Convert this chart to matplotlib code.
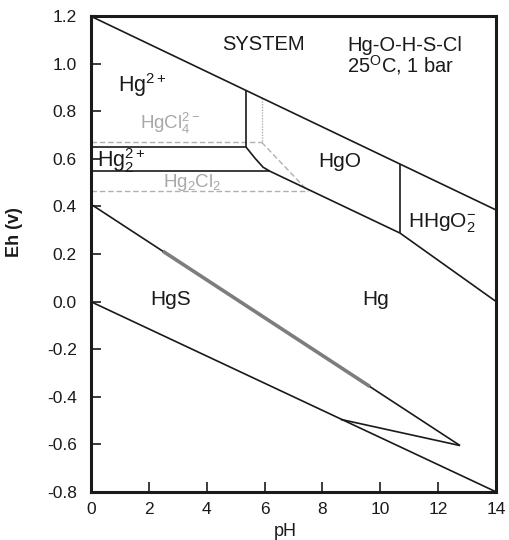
import matplotlib
matplotlib.use('Agg')
import matplotlib.pyplot as plt

plt.rcParams['font.family'] = ['Liberation Sans', 'DejaVu Sans']
plt.rcParams['mathtext.fontset'] = 'custom'
plt.rcParams['mathtext.rm'] = 'Liberation Sans'
plt.rcParams['mathtext.it'] = 'Liberation Sans'
plt.rcParams['mathtext.bf'] = 'Liberation Sans:bold'

# ---- data (pH, Eh) ----
ph_ticks = [0, 2, 4, 6, 8, 10, 12, 14]
eh_ticks = [-0.8, -0.6, -0.4, -0.2, 0.0, 0.2, 0.4, 0.6, 0.8, 1.0, 1.2]
eh_ticklabels = ['-0.8', '-0.6', '-0.4', '-0.2', '0.0', '0.2', '0.4', '0.6', '0.8', '1.0', '1.2']

water_upper_ph = [0, 14]
water_upper_eh = [1.2, 0.385]
water_lower_ph = [0, 14]
water_lower_eh = [0.0, -0.8]

hg2_hgo_ph = [5.36, 5.36]
hg2_hgo_eh = [0.888, 0.65]
hg2_hg22_ph = [0, 5.36]
hg2_hg22_eh = [0.652, 0.652]
hg22_hg_ph = [0, 6.19]
hg22_hg_eh = [0.548, 0.548]
hgo_hg_ph = [5.36, 5.67, 5.95, 6.19, 10.68]
hgo_hg_eh = [0.65, 0.603, 0.565, 0.548, 0.288]
hgo_hhgo2_ph = [10.68, 10.68]
hgo_hhgo2_eh = [0.578, 0.288]
hhgo2_hg_ph = [10.68, 14]
hhgo2_hg_eh = [0.288, 0.0]
hgs_hg_ph = [0, 12.75]
hgs_hg_eh = [0.41, -0.605]
sliver_ph = [8.63, 12.75]
sliver_eh = [-0.495, -0.605]
overlay_ph = [2.49, 9.64]
overlay_eh = [0.212, -0.357]

cl_upper_ph = [0, 5.9]
cl_upper_eh = [0.670, 0.670]
cl_vert_ph = [5.9, 5.9]
cl_vert_eh = [0.857, 0.670]
cl_diag_ph = [5.9, 7.5]
cl_diag_eh = [0.670, 0.465]
cl_lower_ph = [0, 7.5]
cl_lower_eh = [0.465, 0.465]

fig = plt.figure(figsize=(5.1, 5.4), dpi=100)
ax = fig.add_axes([0.178, 0.089, 0.795, 0.881])
ax.set_xlim(0, 14)
ax.set_ylim(-0.8, 1.2)

k = '#1a1a1a'
lw = 1.2
for xs, ys in [(water_upper_ph, water_upper_eh), (water_lower_ph, water_lower_eh),
               (hg2_hgo_ph, hg2_hgo_eh), (hg2_hg22_ph, hg2_hg22_eh),
               (hg22_hg_ph, hg22_hg_eh), (hgo_hg_ph, hgo_hg_eh),
               (hgo_hhgo2_ph, hgo_hhgo2_eh), (hhgo2_hg_ph, hhgo2_hg_eh),
               (hgs_hg_ph, hgs_hg_eh), (sliver_ph, sliver_eh)]:
    ax.plot(xs, ys, color=k, lw=lw, solid_capstyle='butt', zorder=3)

ax.plot(overlay_ph, overlay_eh, color='#7d7d7d', lw=2.6, solid_capstyle='butt', zorder=4)

g = '#b0b0b0'
ax.plot(cl_upper_ph, cl_upper_eh, color=g, lw=1.0, ls=(0, (4, 2)), zorder=2)
ax.plot(cl_lower_ph, cl_lower_eh, color=g, lw=1.0, ls=(0, (4, 2)), zorder=2)
ax.plot(cl_vert_ph, cl_vert_eh, color=g, lw=1.0, ls=(0, (1, 1)), zorder=2)
ax.plot(cl_diag_ph, cl_diag_eh, color=g, lw=1.0, ls=(0, (4, 2)), zorder=2)

fs = 15
ax.text(5.96, 1.08, 'SYSTEM', fontsize=14.5, ha='center', va='center', color=k)
ax.text(8.85, 1.078, 'Hg-O-H-S-Cl', fontsize=14.5, ha='left', va='center', color=k)
ax.text(8.85, 0.994, '25$^{\\mathrm{O}}$C, 1 bar', fontsize=14.5, ha='left', va='center', color=k)
ax.text(0.93, 0.91, 'Hg$^{2+}$', fontsize=15.5, ha='left', va='center', color=k)
ax.text(0.2, 0.595, 'Hg$_2^{2+}$', fontsize=15.5, ha='left', va='center', color=k)
ax.text(1.7, 0.75, 'HgCl$_4^{2-}$', fontsize=13.5, ha='left', va='center', color='#a8a8a8')
ax.text(2.5, 0.50, 'Hg$_2$Cl$_2$', fontsize=13.5, ha='left', va='center', color='#a8a8a8')
ax.text(8.6, 0.59, 'HgO', fontsize=fs, ha='center', va='center', color=k)
ax.text(10.96, 0.33, 'HHgO$_2^{-}$', fontsize=fs, ha='left', va='center', color=k)
ax.text(2.77, 0.007, 'HgS', fontsize=fs, ha='center', va='center', color=k)
ax.text(9.82, 0.007, 'Hg', fontsize=fs, ha='center', va='center', color=k)

ax.set_xticks(ph_ticks)
ax.set_xticklabels([str(t) for t in ph_ticks])
ax.set_yticks(eh_ticks)
ax.set_yticklabels(eh_ticklabels)
ax.tick_params(direction='in', length=7, width=1.2, labelsize=12.5, colors=k, pad=7)
ax.tick_params(axis='y', pad=10)
for s in ax.spines.values():
    s.set_linewidth(2.2)
    s.set_color(k)

ax.set_ylabel('Eh (v)', fontsize=13, fontweight='bold', color=k)
ax.yaxis.set_label_coords(-0.168, 0.546)
ax.set_xlabel('pH', fontsize=13, color=k)
ax.xaxis.set_label_coords(0.479, -0.066)

fig.savefig('out.png', dpi=100, facecolor='white')
